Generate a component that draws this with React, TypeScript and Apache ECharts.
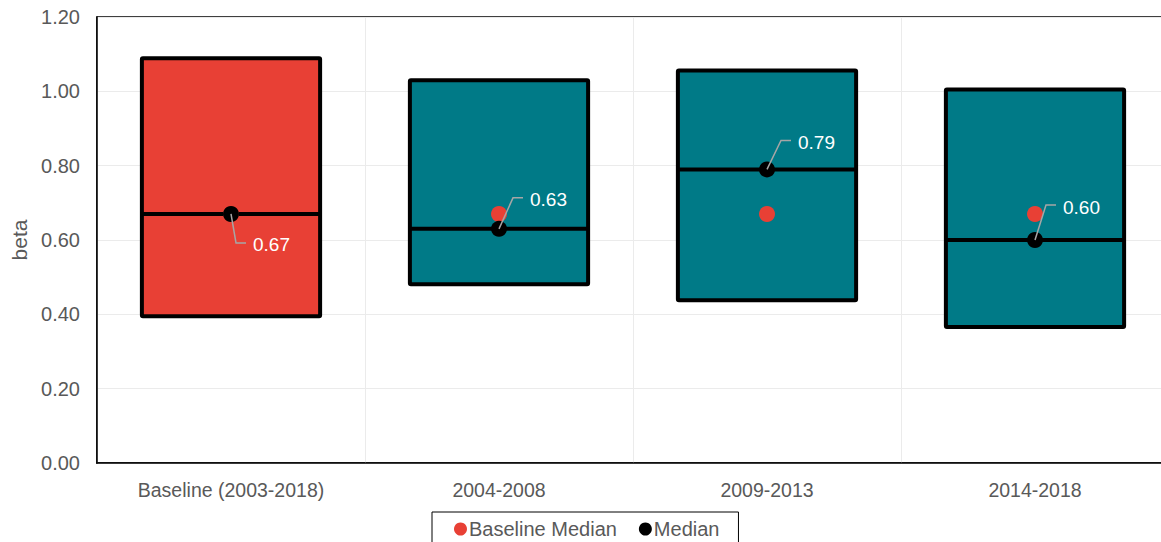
import React, { useEffect, useRef } from "react";
import * as echarts from "echarts";

const categories = ["Baseline (2003-2018)", "2004-2008", "2009-2013", "2014-2018"];
const boxLow = [0.395, 0.481, 0.438, 0.366];
const boxHigh = [1.089, 1.03, 1.056, 1.005];
const medians = [0.67, 0.63, 0.79, 0.6];
const baselineMedian = [0.67, 0.67, 0.67, 0.67];
const yTicks = [0, 0.2, 0.4, 0.6, 0.8, 1.0, 1.2];

const RED = "#E84035";
const TEAL = "#007A87";
const GRAY_TEXT = "#595959";
const FONT = 'Arial, "Liberation Sans", sans-serif';

// label leader-line elbow offsets relative to each median dot (layout only)
const labelElbow: [number, number][] = [
  [5, 29],
  [14, -31],
  [14, -29],
  [11, -35],
];

export default function App() {
  const ref = useRef<HTMLDivElement>(null);
  useEffect(() => {
    if (!ref.current) return;
    const chart = echarts.init(ref.current, null, { renderer: "svg" });
    const option: any = {
      animation: false,
      textStyle: { fontFamily: FONT },
      grid: {
        left: 97,
        right: 0,
        top: 17,
        bottom: 79,
        show: true,
        borderColor: "#000",
        borderWidth: 1.5,
        backgroundColor: "transparent",
      },
      legend: {
        left: 432,
        top: 512,
        data: [
          { name: "Baseline Median", icon: "circle" },
          { name: "Median", icon: "circle" },
        ],
        itemWidth: 13,
        itemHeight: 13,
        itemGap: 22,
        padding: [7, 19, 10, 22],
        borderColor: "#000",
        borderWidth: 1,
        textStyle: { fontSize: 20, color: GRAY_TEXT, fontFamily: FONT, padding: [0, 0, 0, -3] },
      },
      xAxis: {
        type: "category",
        data: categories,
        boundaryGap: true,
        axisLine: { lineStyle: { color: "#000", width: 1.5 } },
        axisTick: { show: false },
        axisLabel: { color: GRAY_TEXT, fontSize: 19.5, margin: 17, fontFamily: FONT },
        splitLine: { show: true, lineStyle: { color: "#EBEBEB", width: 1 } },
      },
      yAxis: {
        type: "value",
        min: yTicks[0],
        max: yTicks[yTicks.length - 1],
        interval: 0.2,
        name: "beta",
        nameLocation: "middle",
        nameRotate: 90,
        nameGap: 66,
        nameTextStyle: { color: GRAY_TEXT, fontSize: 21, fontFamily: FONT },
        axisLine: { show: true, lineStyle: { color: "#000", width: 1.5 } },
        axisTick: { show: false },
        axisLabel: {
          color: GRAY_TEXT,
          fontSize: 20,
          margin: 17,
          fontFamily: FONT,
          formatter: (v: number) => v.toFixed(2),
        },
        splitLine: { show: true, lineStyle: { color: "#EBEBEB", width: 1 } },
      },
      series: [
        {
          name: "Range",
          type: "custom",
          z: 1,
          data: categories.map((_, i) => [i, boxLow[i], boxHigh[i], medians[i]]),
          encode: { x: 0, y: [1, 2, 3] },
          renderItem: (params: any, api: any) => {
            const idx = api.value(0);
            const top = api.coord([idx, api.value(2)]);
            const bot = api.coord([idx, api.value(1)]);
            const med = api.coord([idx, api.value(3)]);
            const w = api.size([1, 0])[0] * 0.665;
            const x0 = top[0] - w / 2;
            return {
              type: "group",
              children: [
                {
                  type: "rect",
                  shape: { x: x0, y: top[1], width: w, height: bot[1] - top[1], r: 1 },
                  style: {
                    fill: idx === 0 ? RED : TEAL,
                    stroke: "#000",
                    lineWidth: 4,
                    lineJoin: "round",
                  },
                },
                {
                  type: "line",
                  shape: { x1: x0, y1: med[1], x2: x0 + w, y2: med[1] },
                  style: { stroke: "#000", lineWidth: 4 },
                },
              ],
            };
          },
        },
        {
          name: "Baseline Median",
          type: "scatter",
          z: 2,
          symbol: "circle",
          symbolSize: 16,
          itemStyle: { color: RED, opacity: 1 },
          data: baselineMedian,
        },
        {
          name: "Median",
          type: "custom",
          z: 3,
          itemStyle: { color: "#000" },
          data: categories.map((_, i) => [i, medians[i]]),
          encode: { x: 0, y: 1 },
          renderItem: (params: any, api: any) => {
            const i = params.dataIndex;
            const p = api.coord([api.value(0), api.value(1)]);
            const [dx, dy] = labelElbow[i];
            const ex = p[0] + dx;
            const ey = p[1] + dy;
            return {
              type: "group",
              children: [
                {
                  type: "polyline",
                  z2: 1,
                  shape: { points: [[p[0], p[1]], [ex, ey], [ex + 10, ey]] },
                  style: { stroke: "#A6A6A6", lineWidth: 1.5, fill: "none" },
                },
                {
                  type: "circle",
                  z2: 0,
                  shape: { cx: p[0], cy: p[1], r: 8 },
                  style: { fill: "#000" },
                },
                {
                  type: "text",
                  z2: 2,
                  x: ex + 17,
                  y: ey + 2,
                  style: {
                    text: medians[i].toFixed(2),
                    fill: "#fff",
                    fontSize: 19,
                    fontFamily: FONT,
                    verticalAlign: "middle",
                    align: "left",
                  },
                },
              ],
            };
          },
        },
      ],
    };
    chart.setOption(option);
    return () => chart.dispose();
  }, []);
  return (
    <div
      style={{
        position: "absolute",
        left: 0,
        top: 0,
        width: 1161,
        height: 542,
        overflow: "hidden",
        background: "#fff",
      }}
    >
      <div ref={ref} style={{ width: 1169, height: 542 }} />
    </div>
  );
}
